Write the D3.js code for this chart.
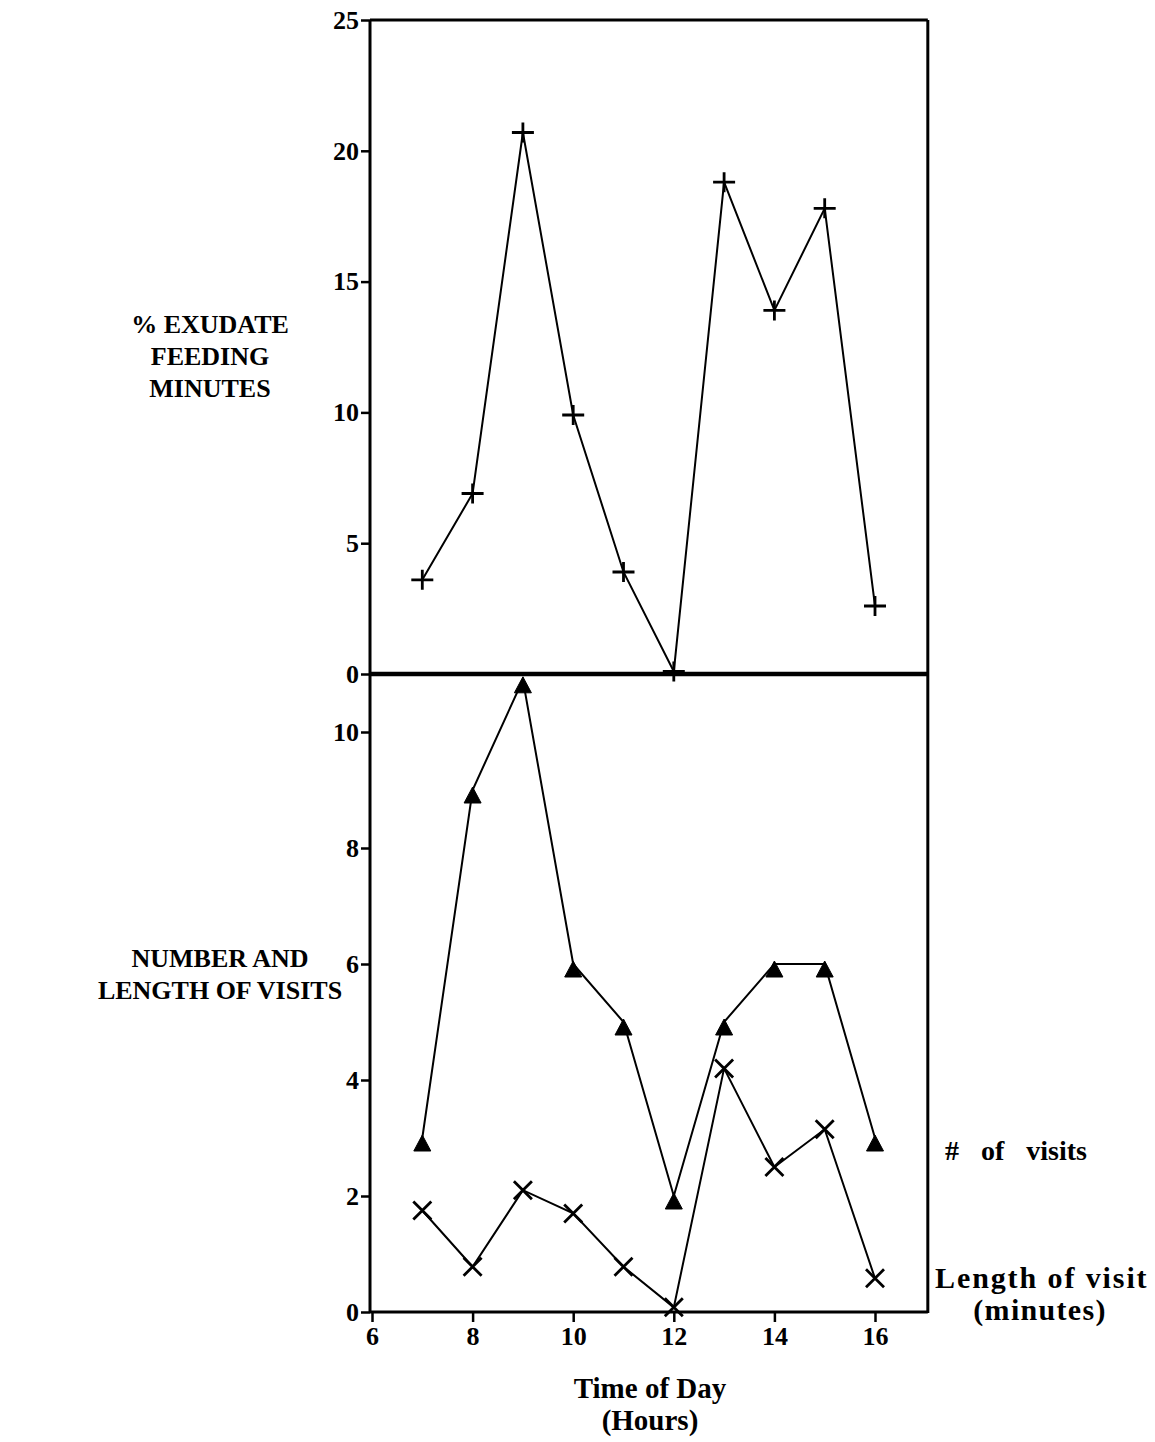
<!DOCTYPE html>
<html>
<head>
<meta charset="utf-8">
<script src="https://cdn.jsdelivr.net/npm/d3@7"></script>
<style>
  body { margin: 0; background: #fff; }
  svg { display: block; font-family: "Liberation Serif", "Times New Roman", serif; font-weight: bold; }
  .tick text { font-family: "Liberation Serif", "Times New Roman", serif; font-size: 26px; font-weight: bold; fill: #000; }
  .tick line { stroke: #000; stroke-width: 2.5; }
  .domain { display: none; }
</style>
</head>
<body>
<svg id="chart" width="1155" height="1442"></svg>
<script>
// hours of the day
const hours = [7, 8, 9, 10, 11, 12, 13, 14, 15, 16];
// % exudate feeding minutes (top panel)
const exudatePct = [3.6, 6.9, 20.7, 9.9, 3.9, 0.1, 18.8, 13.9, 17.8, 2.6];
// number of visits (triangles)
const visitCount = [3, 9, 10.9, 6, 5, 2, 5, 6, 6, 3];
// length of visit, minutes (crosses)
const visitLength = [1.75, 0.78, 2.1, 1.7, 0.78, 0.08, 4.2, 2.5, 3.15, 0.58];

const xTicks = [6, 8, 10, 12, 14, 16];
const topTicks = [0, 5, 10, 15, 20, 25];
const bottomTicks = [0, 2, 4, 6, 8, 10];

const svg = d3.select("#chart");

const x = d3.scaleLinear().domain([6, 16]).range([372, 875]);
const left = 370, right = x(17.05);
const yTop = d3.scaleLinear().domain([0, 25]).range([674, 20]);
const yBot = d3.scaleLinear().domain([0, 11]).range([1312, 674]);

// y axes
svg.append("g")
  .attr("transform", `translate(${left},0)`)
  .call(d3.axisLeft(yTop).tickValues(topTicks).tickSize(9).tickPadding(2))
  .attr("font-size", 26);

svg.append("g")
  .attr("transform", `translate(${left},0)`)
  .call(d3.axisLeft(yBot).tickValues(bottomTicks).tickSize(9).tickPadding(2))
  .attr("font-size", 26);

// x axis
svg.append("g")
  .attr("transform", "translate(0,1312)")
  .call(d3.axisBottom(x).tickValues(xTicks).tickSize(10).tickPadding(5))
  .attr("font-size", 26);

// frame
const frame = svg.append("g").attr("stroke", "#000").attr("fill", "none");
frame.append("line").attr("x1", left).attr("x2", left).attr("y1", yTop(25)).attr("y2", 1313).attr("stroke-width", 3);
frame.append("line").attr("x1", right).attr("x2", right).attr("y1", yTop(25)).attr("y2", 1313).attr("stroke-width", 3);
frame.append("line").attr("x1", left).attr("x2", right).attr("y1", yTop(25)).attr("y2", yTop(25)).attr("stroke-width", 3);
frame.append("line").attr("x1", left).attr("x2", right).attr("y1", yTop(0)).attr("y2", yTop(0)).attr("stroke-width", 4.5);
frame.append("line").attr("x1", left).attr("x2", right).attr("y1", 1312).attr("y2", 1312).attr("stroke-width", 3);

function series(values, yScale, markPath) {
  const pts = hours.map((h, i) => [x(h), yScale(values[i])]);
  svg.append("path")
    .attr("d", d3.line()(pts))
    .attr("fill", "none")
    .attr("stroke", "#000")
    .attr("stroke-width", 2);
  return svg.append("g").selectAll("path")
    .data(pts)
    .enter()
    .append("path")
    .attr("transform", d => `translate(${d[0]},${d[1]})`)
    .attr("d", markPath);
}

series(exudatePct, yTop, "M-11,0H11M0,-10V10")
  .attr("stroke", "#000").attr("stroke-width", 2.8).attr("fill", "none");

series(visitCount, yBot, "M0,-3L8.5,13L-8.5,13Z")
  .attr("fill", "#000").attr("stroke", "#000").attr("stroke-width", 1);

series(visitLength, yBot, "M-9,-9L9,9M-9,9L9,-9")
  .attr("stroke", "#000").attr("stroke-width", 2.8).attr("fill", "none");

// text labels
function label(lines, cx, y0, size, lh, anchor = "middle") {
  const t = svg.append("text")
    .attr("text-anchor", anchor)
    .attr("font-size", size)
    .attr("fill", "#000");
  lines.forEach((s, i) => {
    t.append("tspan").attr("x", cx).attr("y", y0 + i * lh).text(s);
  });
  return t;
}

label(["% EXUDATE", "FEEDING", "MINUTES"], 210, 333, 26, 32);
label(["NUMBER AND", "LENGTH OF VISITS"], 220, 967, 26, 32);
label(["Time of Day", "(Hours)"], 650, 1398, 29, 32);
label(["# of visits"], 945, 1160, 28, 0, "start").attr("word-spacing", 15);
label(["Length of visit"], 935, 1288, 30, 0, "start").attr("letter-spacing", 1.9);
label(["(minutes)"], 1040, 1320, 30, 0).attr("letter-spacing", 1.3);
</script>
</body>
</html>
